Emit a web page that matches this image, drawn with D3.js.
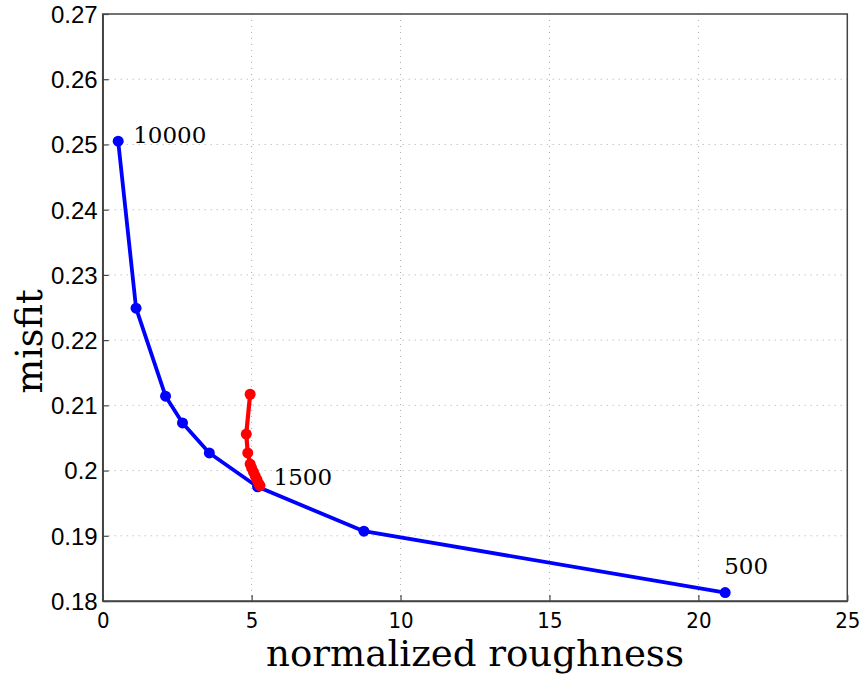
<!DOCTYPE html>
<html>
<head>
<meta charset="utf-8">
<script src="https://cdn.jsdelivr.net/npm/d3@7"></script>
<style>
  body { margin: 0; background: #fff; }
  svg { display: block; }
</style>
</head>
<body>
<div id="chart"></div>
<script>
// blue curve: regularization sweep
const blueRough  = [0.52, 1.12, 2.11, 2.68, 3.58, 5.2, 8.77, 20.9]
const blueMisfit = [0.2505, 0.2249, 0.2114, 0.2073, 0.2027, 0.1975, 0.1907, 0.1813]
// red curve: iterations at 1500
const redRough   = [4.95, 4.82, 4.87, 4.95, 5.0, 5.06, 5.12, 5.18, 5.24, 5.28]
const redMisfit  = [0.2117, 0.2056, 0.2027, 0.2010, 0.2004, 0.1998, 0.1992, 0.1986, 0.1980, 0.1977]
// labels on the blue curve
const annotations = [
  { text: '10000', rough: 0.52, misfit: 0.2505, dx: 15, dy: 2 },
  { text: '1500',  rough: 5.2,  misfit: 0.1975, dx: 16, dy: -2 },
  { text: '500',   rough: 20.9, misfit: 0.1813, dx: -1, dy: -19 }
]
const xTicks = [0, 5, 10, 15, 20, 25]
const yTicks = [0.18, 0.19, 0.2, 0.21, 0.22, 0.23, 0.24, 0.25, 0.26, 0.27]

const width = 866, height = 676
const margin = { top: 14, right: 18.7, bottom: 75, left: 102.7 }
const w = width - margin.left - margin.right
const h = height - margin.top - margin.bottom

const svg = d3.select('#chart').append('svg').attr('width', width).attr('height', height)
  .append('g').attr('transform', 'translate(' + margin.left + ',' + margin.top + ')')

const x = d3.scaleLinear().domain([0, 25]).range([0, w])
const y = d3.scaleLinear().domain([0.18, 0.27]).range([h, 0])

// dotted grid
svg.append('g').selectAll('line').data(xTicks.slice(1, -1)).enter().append('line')
  .attr('x1', d => x(d)).attr('x2', d => x(d)).attr('y1', 0).attr('y2', h)
  .attr('stroke', '#aaa').attr('stroke-width', 1).attr('stroke-dasharray', '1,5')
svg.append('g').selectAll('line').data(yTicks.slice(1, -1)).enter().append('line')
  .attr('y1', d => y(d)).attr('y2', d => y(d)).attr('x1', 0).attr('x2', w)
  .attr('stroke', '#aaa').attr('stroke-width', 1).attr('stroke-dasharray', '1,5')

// axes with inward ticks
const xAxis = svg.append('g').attr('transform', 'translate(0,' + h + ')')
  .call(d3.axisBottom(x).tickValues(xTicks).tickSizeInner(-6).tickSizeOuter(0).tickPadding(11).tickFormat(d3.format('d')))
xAxis.selectAll('text').attr('font-family', '"Liberation Sans Narrow", "DejaVu Sans Condensed", sans-serif')
  .attr('font-stretch', 'condensed').attr('font-size', 22).attr('fill', '#000')
const yAxis = svg.append('g')
  .call(d3.axisLeft(y).tickValues(yTicks).tickSizeInner(-6).tickSizeOuter(0).tickPadding(5).tickFormat(d => d3.format('.2~f')(d)))
yAxis.selectAll('text').attr('font-family', '"Liberation Sans", Arial, sans-serif')
  .attr('font-size', 24).attr('fill', '#000').attr('dy', '0.35em')
svg.selectAll('.domain').attr('stroke', '#444').attr('stroke-width', 1.5)
svg.selectAll('.tick line').attr('stroke', '#444').attr('stroke-width', 1.2)

// box
svg.append('rect').attr('x', 0).attr('y', 0).attr('width', w).attr('height', h)
  .attr('fill', 'none').attr('stroke', '#444').attr('stroke-width', 1.5)

function drawSeries(xs, ys, color, lw) {
  const pts = xs.map((v, i) => ({ r: v, m: ys[i] }))
  svg.append('path').datum(pts)
    .attr('fill', 'none').attr('stroke', color).attr('stroke-width', lw)
    .attr('stroke-linejoin', 'round').attr('stroke-linecap', 'round')
    .attr('d', d3.line().x(d => x(d.r)).y(d => y(d.m)))
  svg.append('g').selectAll('circle').data(pts).enter().append('circle')
    .attr('cx', d => x(d.r)).attr('cy', d => y(d.m)).attr('r', 5.5).attr('fill', color)
}
drawSeries(blueRough, blueMisfit, '#0000ff', 3.8)
drawSeries(redRough, redMisfit, '#ff0000', 4.2)

// annotations
svg.selectAll('.ann').data(annotations).enter().append('text')
  .attr('class', 'ann')
  .attr('x', d => x(d.rough) + d.dx).attr('y', d => y(d.misfit) + d.dy)
  .attr('font-family', '"DejaVu Serif", serif').attr('font-size', 23).attr('fill', '#000')
  .text(d => d.text)

// axis titles
svg.append('text').attr('x', w / 2).attr('y', h + 65)
  .attr('text-anchor', 'middle').attr('font-family', '"DejaVu Serif", serif')
  .attr('font-size', 35).attr('textLength', 418).attr('lengthAdjust', 'spacingAndGlyphs')
  .text('normalized roughness')
svg.append('text').attr('transform', 'rotate(-90)')
  .attr('x', -(y(0.2198))).attr('y', -margin.left + 42)
  .attr('text-anchor', 'middle').attr('font-family', '"DejaVu Serif", serif')
  .attr('font-size', 37).attr('textLength', 104).attr('lengthAdjust', 'spacingAndGlyphs')
  .text('misfit')
</script>
</body>
</html>
